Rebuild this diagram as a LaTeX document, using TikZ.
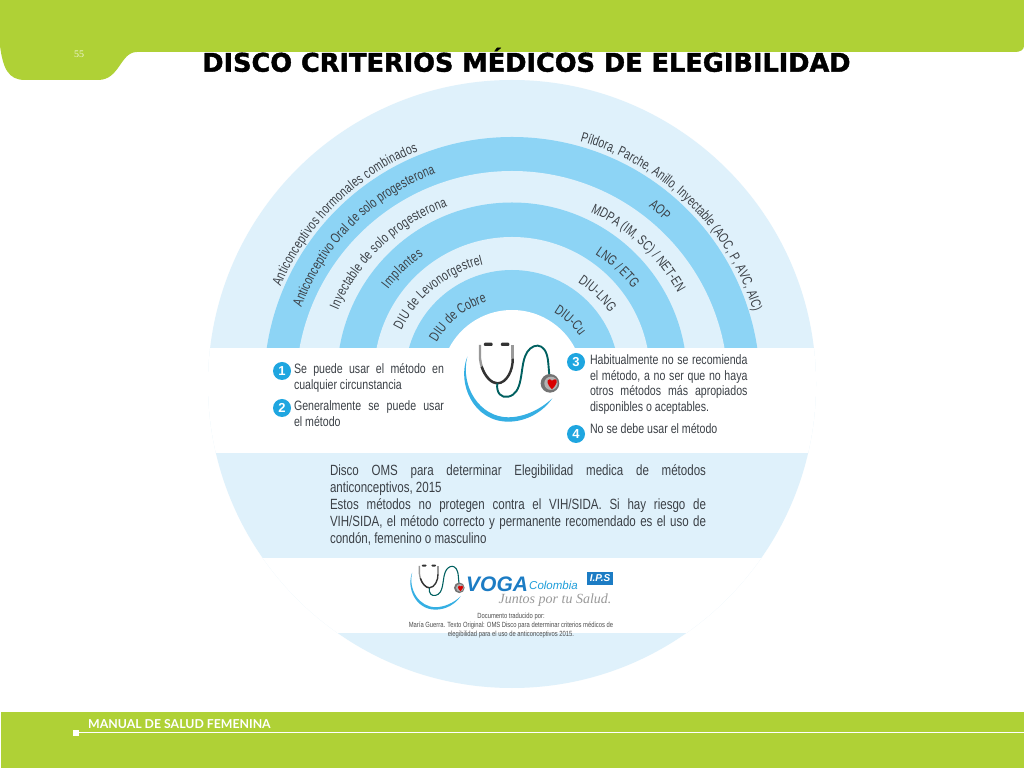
\documentclass[tikz,border=0pt]{standalone}
\usepackage{fontspec}
\usetikzlibrary{decorations.text}
\setmainfont{Liberation Sans}
\newfontfamily\nar[FakeStretch=0.78]{Liberation Sans}
\newfontfamily\narr[FakeStretch=0.74]{Liberation Sans}
\newfontfamily\serifn{Liberation Serif}
\newfontfamily\lato{Lato}
\newfontfamily\heavy[FakeBold=1.6]{DejaVu Sans}
\definecolor{ringlight}{HTML}{DFF1FB}
\definecolor{ringdark}{HTML}{8DD4F5}
\definecolor{leaf}{HTML}{AFD136}
\definecolor{bodytext}{HTML}{3B4046}
\definecolor{badge}{HTML}{1FA6E0}
\definecolor{vogablue}{HTML}{1C7CC4}
\newcommand{\arclab}[4]{%
  \path[decorate,decoration={text along path,text align={fit to path},
    text={|\narr\fontsize{14}{16}\selectfont\color{bodytext}|#4}}]
    (#2:#1pt) arc[start angle=#2,end angle=#3,radius=#1pt];}
\newcommand{\stethdraw}[1]{%
  \fill[badge!90!white] (622,80) .. controls (590,160) and (640,275) .. (745,275)
     .. controls (800,275) and (850,245) .. (877,205)
     .. controls (840,240) and (790,262) .. (745,262)
     .. controls (660,262) and (600,170) .. cycle;
  \draw[black!40,line width=#1*2.4pt] (660,45) -- (660,85) .. controls (665,130) and (690,160) .. (712,160);
  \draw[black!80,line width=#1*2.4pt] (665,110) .. controls (675,140) and (695,160) .. (712,160) .. controls (740,160) and (760,120) .. (758,85);
  \draw[black!40,line width=#1*2.4pt] (758,85) -- (758,45);
  \draw[teal!75!black,line width=#1*1.9pt] (712,160) .. controls (708,190) and (725,205) .. (745,200)
     .. controls (790,190) and (780,120) .. (795,80) .. controls (808,40) and (860,25) .. (865,100) -- (868,135);
  \fill[black!80,rounded corners=1pt] (672,38) rectangle (698,48);
  \fill[black!80,rounded corners=1pt] (723,38) rectangle (748,48);
  \fill[black!55] (870,160) circle[radius=28];
  \fill[black!30] (873,160) circle[radius=20];
  \fill[red!85!black] (876,178) .. controls (862,165) and (858,150) .. (868,148) .. controls (872,147) and (876,151) .. (876,153)
     .. controls (876,151) and (882,147) .. (886,148) .. controls (895,150) and (890,165) .. cycle;
}
\begin{document}
\begin{tikzpicture}[x=1pt,y=1pt,
  lbl/.style={inner sep=0pt,outer sep=0pt,text=bodytext,font=\nar\fontsize{13.6}{16}\selectfont,align=justify},
  num/.style={circle,fill=badge,text=white,inner sep=0pt,minimum size=18pt,font=\bfseries\fontsize{13}{13}\selectfont}]
\useasboundingbox (0,0) rectangle (1024,768);
\fill[white] (0,0) rectangle (1024,768);
% --- top band
\fill[leaf] (0,768) -- (1024,768) -- (1024,722) .. controls (1024,718) and (1020,716) .. (1015,716)
  -- (137,716) .. controls (120,716) and (120,688) .. (98,688) -- (25,688)
  .. controls (8,688) and (3,700) .. (0,722) -- cycle;
% --- bottom band
\fill[leaf] (1,0) rectangle (1024,56);
\fill[white] (73,32.5) rectangle (79,38.5);
\draw[white,line width=.7pt] (79,35.2) -- (1024,35.2);
\node[inner sep=0pt,anchor=west,text=white] (foot) at (88,44) {\lato\bfseries\fontsize{12.3}{14}\selectfont MANUAL DE SALUD FEMENINA};
\node[inner sep=0pt,text=white!80!leaf] (page) at (79,714) {\serifn\fontsize{10}{11}\selectfont 55};
% --- disc
\begin{scope}
  \clip (512,384) circle[radius=304];
  \fill[ringlight] (200,70) rectangle (830,700);
  \begin{scope}
    \clip (190,420) rectangle (830,700);
    \fill[ringdark] (512,383) circle[radius=248];
    \fill[ringlight] (512,381) circle[radius=216];
    \fill[ringdark] (512,390.5) circle[radius=175];
    \fill[ringlight] (512,393) circle[radius=138];
    \fill[ringdark] (512,391) circle[radius=107];
    \fill[white] (512,387) circle[radius=71];
  \end{scope}
  \fill[white] (190,315) rectangle (830,420);
  \fill[white] (190,135) rectangle (830,210);
\end{scope}
% --- ring labels
\begin{scope}[shift={(512,384)}]
  \arclab{251}{157.2}{112}{Anticonceptivos hormonales combinados}
  \arclab{224}{160}{110}{Anticonceptivo Oral de solo progesterona}
  \arclab{189}{157}{110}{Inyectable de solo progesterona}
  \arclab{156}{142.5}{124.5}{Implantes}
  \arclab{123}{154}{103.6}{DIU de Levonorgestrel}
  \arclab{86}{151}{107}{DIU de Cobre}
  \arclab{252}{74.3}{16.7}{Píldora, Parche, Anillo, Inyectable (AOC, P, AVC, AIC)}
  \arclab{224}{52.4}{47}{AOP}
  \arclab{189}{65.4}{28.7}{MDPA (IM, SC) / NET-EN}
  \arclab{154}{57.3}{38.3}{LNG / ETG}
  \arclab{121}{57}{36}{DIU-LNG}
  \arclab{83}{59.7}{35.5}{DIU-Cu}
\end{scope}
% --- stethoscope
\begin{scope}[shift={(260,438)},x=.3333pt,y=-.3333pt]
  \stethdraw{1}
\end{scope}
% --- legend
\node[num] (n1) at (282,397) {1};
\node[num] (n2) at (282,360) {2};
\node[num] (n3) at (576,406) {3};
\node[num] (n4) at (576,334) {4};
\node[lbl,anchor=north west,text width=150pt] (t1) at (294,405) {Se puede usar el método en\linebreak cualquier circunstancia};
\node[lbl,anchor=north west,text width=150pt] (t2) at (294,367.5) {Generalmente se puede usar\linebreak el método};
\node[lbl,anchor=north west,text width=157.5pt,font=\nar\fontsize{13.6}{15.7}\selectfont] (t3) at (590,413.5) {Habitualmente no se recomienda\linebreak el método, a no ser que no haya\linebreak otros métodos más apropiados\linebreak disponibles o aceptables.};
\node[lbl,anchor=north west,text width=157.5pt] (t4) at (590,345) {No se debe usar el método};
\node[lbl,anchor=north west,text width=376pt,font=\nar\fontsize{14.8}{17}\selectfont] (t5) at (330,303) {Disco OMS para determinar Elegibilidad medica de métodos\linebreak anticonceptivos, 2015\\
Estos métodos no protegen contra el VIH/SIDA. Si hay riesgo de\linebreak VIH/SIDA, el método correcto y permanente recomendado es el uso de\linebreak condón, femenino o masculino};
% --- logo
\begin{scope}[shift={(294,210.6)},x=.19pt,y=-.19pt]
  \stethdraw{.57}
\end{scope}
\node[inner sep=0pt,anchor=west,text=vogablue] (voga) at (466,184) {\bfseries\itshape\fontsize{21}{22}\selectfont VOGA};
\node[inner sep=0pt,anchor=west,text=badge!80!vogablue] (colo) at (529,183) {\itshape\fontsize{11.5}{12}\selectfont Colombia};
\node[inner sep=0pt,fill=vogablue,text=white,minimum width=26pt,minimum height=13pt] (ips) at (600,189.5) {\bfseries\itshape\fontsize{10}{11}\selectfont I.P.S};
\node[inner sep=0pt,text=black!40] (slogan) at (555,168) {\serifn\itshape\fontsize{14}{15}\selectfont Juntos por tu Salud.};
\node[inner sep=0pt,align=center,text=black!70,font=\nar\fontsize{7.5}{8.6}\selectfont] (doc) at (511,142.5) {Documento traducido por:\\ María Guerra. Texto Original: OMS Disco para determinar criterios médicos de\\ elegibilidad para el uso de anticonceptivos 2015.};
% --- title
\node[inner sep=0pt,text=black] (title) at (526.5,708) {\heavy\bfseries\fontsize{25.6}{27}\selectfont DISCO CRITERIOS MÉDICOS DE ELEGIBILIDAD};
\end{tikzpicture}
\end{document}
